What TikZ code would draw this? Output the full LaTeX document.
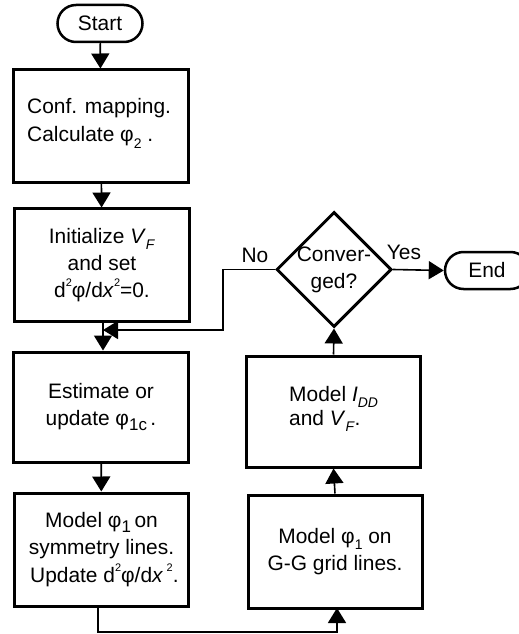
\documentclass[tikz,border=0pt]{standalone}
\usepackage{fontspec}
\setmainfont{Liberation Sans}
\usetikzlibrary{shapes.geometric,shapes.misc,arrows.meta}

% small raised / lowered text for indices and powers
\newcommand{\lsub}[1]{\raisebox{-0.3em}{\fontsize{14}{14}\selectfont #1}}
\newcommand{\lbigsub}[1]{\raisebox{-0.25em}{\fontsize{17}{17}\selectfont #1}}
\newcommand{\lsup}[1]{\raisebox{0.5em}{\fontsize{11}{11}\selectfont #1}}
\newcommand{\phichar}{φ}

\tikzset{
  procbox/.style={draw, line width=3bp, rectangle, inner sep=0pt,
    minimum width=174bp, minimum height=112bp,
    font=\fontsize{21}{27}\selectfont},
  termbox/.style={draw, line width=2.5bp, rounded rectangle, inner sep=0pt,
    minimum height=37bp, font=\fontsize{21}{26}\selectfont},
  decbox/.style={draw, line width=3bp, diamond, inner sep=0pt,
    minimum width=115bp, minimum height=115bp},
  flow/.style={line width=1.6bp, -{Triangle[length=15bp,width=18bp]}},
  lbl/.style={font=\fontsize{21}{27}\selectfont, inner sep=0pt}
}

\begin{document}
\begin{tikzpicture}[x=1bp,y=-1bp]
\useasboundingbox (0,0) rectangle (519,634);
\clip (0,0) rectangle (519,634);

% terminals
\node[termbox, minimum width=85bp] (start) at (100,23.5) {Start};
\node[termbox, minimum width=84bp] (end) at (487,270.5) {End};

% left column
\node[procbox] (conf) at (101,126) {};
\node[lbl, align=left, anchor=base west] (conftext) at (27,142)
  {Conf. mapping.\\[2bp]Calculate \phichar\lsub{2} .};
\node[procbox, align=center] (init) at (102,265)
  {Initialize \textit{V}\lsub{\textit{F}}\\and set\\d\lsup{2}\phichar/d\textit{x}\lsup{2}=0.};
\node[procbox, align=center, minimum height=110bp] (est) at (101,407)
  {Estimate or\\update \phichar\lbigsub{1c}\,.};
\node[procbox, align=center, minimum height=113bp] (sym) at (101.5,549.5)
  {Model \phichar\lbigsub{1}\,on\\symmetry lines.\\[1bp]\ Update d\lsup{2}\phichar/d\textit{x}\,\lsup{2}.};

% right column
\node[decbox] (conv) at (334,269.5) {};
\node[lbl, align=center] (convtext) at (conv) {Conver-\\ged?};
\node[procbox, minimum height=111bp] (idd) at (333.5,411.5) {};
\node[lbl, align=left, anchor=base west] (iddtext) at (289,425)
  {Model \textit{I}\lsub{\textit{DD}}\\[-3bp]and \textit{V}\lsub{\textit{F}}.};
\node[procbox, align=center, minimum height=113bp] (gg) at (335,551.5)
  {Model \phichar\lsub{1} on\\G-G grid lines.};

% junction points of the loop
\coordinate (merge) at (103,330);
\coordinate (loopR) at (223,330);
\coordinate (loopT) at (223,269.5);
\coordinate (symOut) at (98,606);
\coordinate (botL) at (98,632);
\coordinate (botR) at (337,632);
\coordinate (ggIn) at (337,608);

% connectors
\draw[flow] (start) -- (conf);
\draw[flow] (conf) -- (init);
\draw[flow] (init.south -| merge) -- (est.north -| merge);
\draw[flow] (conv.west) -- (loopT) -- (loopR) -- (merge);
\draw[flow] (est) -- (sym);
\draw[flow] (symOut) -- (botL) -- (botR) -- (ggIn);
\draw[flow] (gg.north) -- (idd.south);
\draw[flow] (idd.north) -- (conv.south);
\draw[flow] (conv.east) -- (end.west);

% branch labels
\node[lbl] (no) at (255,255) {No};
\node[lbl] (yes) at (404,252) {Yes};
\end{tikzpicture}
\end{document}
